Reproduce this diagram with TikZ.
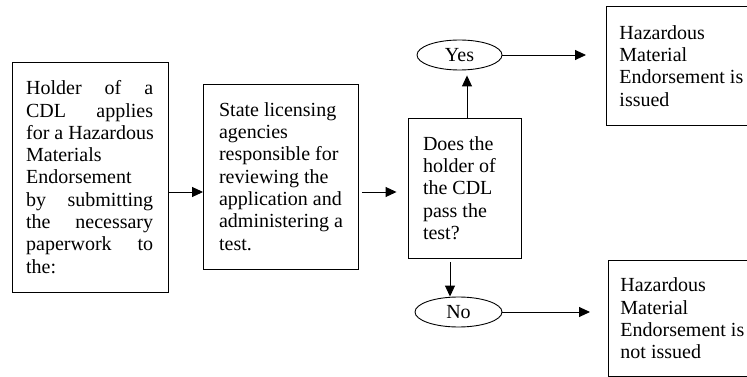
\documentclass[tikz,border=0pt]{standalone}
\usepackage{fontspec}
\setmainfont{Liberation Serif}
\usetikzlibrary{arrows.meta,shapes.geometric}
\newcommand{\spreadline}[1]{\hbox to 127pt{#1}}
\begin{document}
\begin{tikzpicture}[x=1pt,y=-1pt,
		box/.style={draw,line width=0.9pt,align=left,inner sep=0pt,font=\fontsize{20}{22.3}\selectfont},
		oval/.style={draw,ellipse,line width=0.9pt,inner sep=0pt,font=\fontsize{20}{22.3}\selectfont},
		arr/.style={line width=0.9pt,-{Triangle[length=11pt,width=10pt]}}]
		\clip (0,0) rectangle (747,377);
		\node[box,minimum width=156,minimum height=230] (holder) at (90,177)
			{\spreadline{Holder\hfill of\hfill a}\\ \spreadline{CDL\hfill applies}\\ for a Hazardous\\ Materials\\ Endorsement\\
			 \spreadline{by\hfill submitting}\\ \spreadline{the\hfill necessary}\\ \spreadline{paperwork\hfill to}\\ the:};
		\node[box,minimum width=155,minimum height=185] (agency) at (281,176.5)
			{State licensing\\ agencies\\ responsible for\\ reviewing the\\ application and\\ administering a\\ test.};
		\node[box,minimum width=113,minimum height=140] (test) at (464.5,188)
			{\makebox[83pt][l]{Does the}\\ holder of\\ the CDL\\ pass the\\ test?};
		\node[oval,minimum width=85,minimum height=30] (yes) at (459.5,55) {Yes};
		\node[oval,minimum width=87,minimum height=30] (no) at (458.5,312) {No};
		\node[box,anchor=north west,inner xsep=13pt,minimum height=119] (issued) at (606,6)
			{Hazardous\\ Material\\ Endorsement is\\ issued};
		\node[box,anchor=north west,inner xsep=12pt,minimum height=116] (notissued) at (608,260)
			{Hazardous\\ Material\\ Endorsement is\\ not issued};
		% flow
		\draw[arr] ([yshift=-15pt]holder.east) -- ([yshift=-15pt]holder.east -| agency.west);
		\draw[arr,shorten <=3pt,shorten >=11pt] ([yshift=-15.5pt]agency.east) -- ([yshift=-15.5pt]agency.east -| test.west);
		\draw[arr,shorten >=5pt] ([xshift=2.5pt]test.north) -- ([xshift=2.5pt]test.north |- yes.south);
		\draw[arr,shorten <=4pt] ([xshift=-14.5pt]test.south) -- ([xshift=-14.5pt]test.south |- no.north);
		\draw[arr,shorten >=20pt] (yes.east) -- (yes.east -| issued.west);
		\draw[arr,shorten >=18pt] (no.east) -- (no.east -| notissued.west);
	\end{tikzpicture}
\end{document}
